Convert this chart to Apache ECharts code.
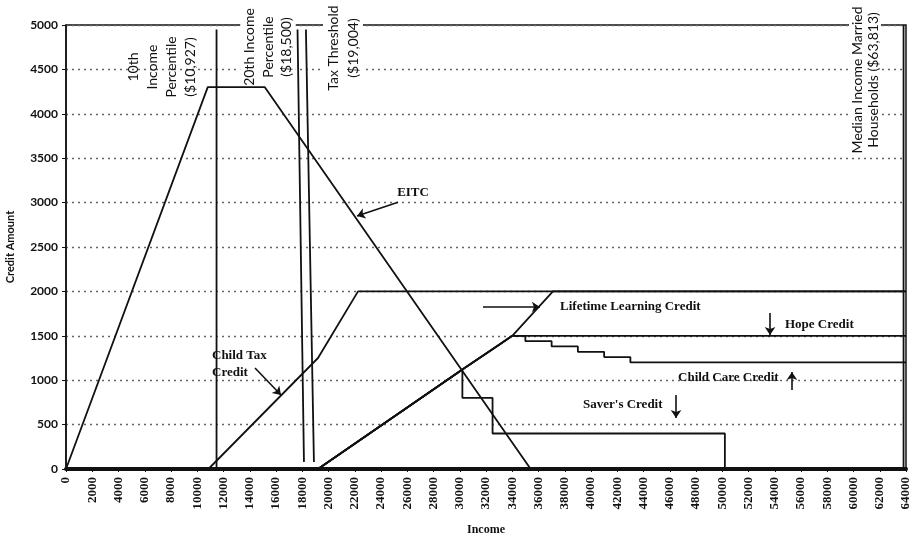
<!DOCTYPE html>
<html lang="en">
<head>
<meta charset="utf-8">
<script src="https://cdn.jsdelivr.net/npm/echarts@6/dist/echarts.min.js"></script>
<style>html,body{margin:0;padding:0;background:#fff}</style>
</head>
<body>
<div id="main" style="width:916px;height:538px"></div>
<script type="text/javascript">
// credit schedules as [income, credit amount]
var eitc = [[0, 0], [10800, 4300], [15150, 4300], [35400, 0], [64000, 0]];
var childTax = [[0, 0], [10850, 0], [19200, 1250], [22250, 2000], [64000, 2000]];
var hope = [[0, 0], [19200, 0], [30200, 1120], [33000, 1400], [34000, 1500], [64000, 1500]];
var lifetime = [[0, 0], [19200, 0], [30200, 1120], [33000, 1400], [34000, 1500], [37100, 2000], [64000, 2000]];
var childCare = [[0, 0], [19200, 0], [30200, 1120], [33000, 1400], [34000, 1500], [35000, 1500], [35000, 1440],
    [37000, 1440], [37000, 1380], [39000, 1380], [39000, 1320], [41000, 1320], [41000, 1260],
    [43000, 1260], [43000, 1200], [64000, 1200]];
var saver = [[0, 0], [19200, 0], [30200, 1120], [30200, 800], [32500, 800], [32500, 400], [50200, 400], [50200, 0], [64000, 0]];

// reference income lines
var pct10Line = [[11470, 4950], [11470, 20]];
var pct20Line = [[17640, 4950], [18130, 80]];
var taxLine = [[18280, 4950], [18890, 80]];
var medianLine = [[63813, 5000], [63813, 0]];

// axes
var xMin = 0, xMax = 64000, xStep = 2000;
var yMin = 0, yMax = 5000, yStep = 500;

var chart = echarts.init(document.getElementById('main'));

function line(name, data) {
    return {
        name: name,
        type: 'line',
        data: data,
        showSymbol: false,
        symbol: 'none',
        lineStyle: {color: '#111', width: 1.8},
        z: 3
    };
}

function arrow(from, to) {
    return [{coord: from}, {coord: to}];
}

function plain(v) {
    return String(v);
}

var series = [
    line('EITC', eitc),
    line('Child Tax Credit', childTax),
    line('Hope Credit', hope),
    line('Lifetime Learning Credit', lifetime),
    line('Child Care Credit', childCare),
    line('Saver\'s Credit', saver),
    line('10th', pct10Line),
    line('20th', pct20Line),
    line('Tax Threshold', taxLine),
    line('Median', medianLine)
];

// annotation arrows
series[0].markLine = {
    silent: true,
    animation: false,
    symbol: ['none', 'arrow'],
    symbolSize: 8,
    label: {show: false},
    lineStyle: {color: '#111', width: 1.6, type: 'solid'},
    data: [
        arrow([25300, 3005], [22170, 2850]),
        arrow([14400, 1137], [16380, 833]),
        arrow([31770, 1824], [36110, 1824]),
        arrow([53640, 1757], [53640, 1509]),
        arrow([55310, 890], [55310, 1092]),
        arrow([46480, 833], [46480, 574])
    ]
};

var option = {
    animation: false,
    grid: {
        left: 66, right: 10, top: 25, bottom: 69,
        containLabel: false,
        outerBoundsMode: 'none',
        show: true, borderColor: '#111', borderWidth: 1.5
    },
    xAxis: {
        type: 'value',
        min: xMin, max: xMax, interval: xStep,
        name: 'Income',
        nameLocation: 'middle',
        nameGap: 55,
        nameTextStyle: {fontFamily: 'Liberation Serif', fontWeight: 'bold', fontSize: 12, color: '#111'},
        axisLine: {lineStyle: {color: '#111', width: 4}},
        axisTick: {show: true, length: 3, lineStyle: {color: '#111'}},
        axisLabel: {
            rotate: 90, margin: 8, formatter: plain,
            fontFamily: 'Liberation Serif', fontWeight: 'bold', fontSize: 13, color: '#111'
        },
        splitLine: {show: false}
    },
    yAxis: {
        type: 'value',
        min: yMin, max: yMax, interval: yStep,
        name: 'Credit Amount',
        nameLocation: 'middle',
        nameGap: 50,
        nameTextStyle: {fontFamily: 'Lato', fontWeight: 'bold', fontSize: 11, color: '#111'},
        axisLine: {show: true, lineStyle: {color: '#111', width: 1.5}},
        axisTick: {show: true, length: 4, lineStyle: {color: '#111'}},
        axisLabel: {margin: 8, formatter: plain, fontFamily: 'Lato', fontWeight: 'bold', fontSize: 12, color: '#111'},
        splitLine: {show: true, lineStyle: {color: '#666', width: 1.4, type: [2, 4]}}
    },
    series: series
};

chart.setOption(option);

// text annotations placed in data coordinates
var notes = [
    {text: '10th\nIncome\nPercentile\n($10,927)', at: [7310, 4527], rot: true, lh: 19},
    {text: '20th Income\nPercentile\n($18,500)', at: [15390, 4752], rot: true, lh: 18.5, bg: true},
    {text: 'Tax Threshold\n($19,004)', at: [21105, 4741], rot: true, lh: 20, bg: true},
    {text: 'Median Income Married\nHouseholds ($63,813)', at: [60876, 4381], rot: true, lh: 16, bg: true},
    {text: 'EITC', at: [26440, 3108], align: 'center'},
    {text: 'Lifetime Learning Credit', at: [37640, 1824]},
    {text: 'Hope Credit', at: [54780, 1622]},
    {text: 'Child Care Credit', at: [46630, 1025]},
    {text: 'Saver\'s Credit', at: [39390, 721]},
    {text: 'Child Tax\nCredit', at: [11124, 1177], lh: 17}
];

var elements = notes.map(function (n) {
    var p = chart.convertToPixel({gridIndex: 0}, n.at);
    return {
        type: 'text',
        x: p[0], y: p[1],
        rotation: n.rot ? Math.PI / 2 : 0,
        z: 10,
        style: {
            text: n.text,
            textAlign: n.rot ? 'center' : (n.align || 'left'),
            textVerticalAlign: 'middle',
            fontFamily: n.rot ? 'Lato' : 'Liberation Serif',
            fontWeight: n.rot ? 'normal' : 'bold',
            fontSize: n.rot ? 14 : 13,
            lineHeight: n.lh || 16,
            fill: '#111',
            backgroundColor: n.bg ? '#fff' : null
        }
    };
});

chart.setOption({graphic: {elements: elements}});
</script>
</body>
</html>
